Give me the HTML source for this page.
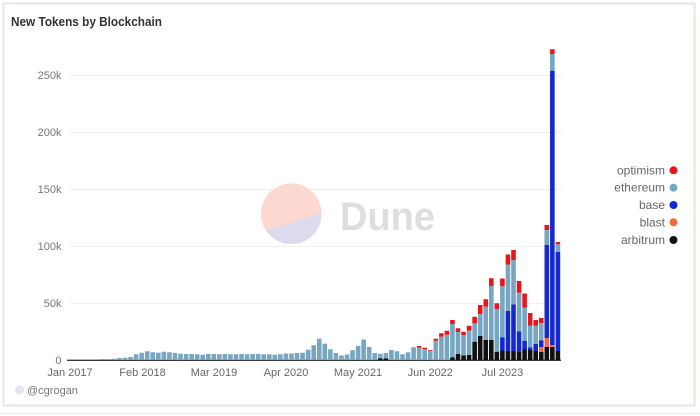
<!DOCTYPE html>
<html>
<head>
<meta charset="utf-8">
<style>
html,body{margin:0;padding:0;background:#fff;}
body{width:700px;height:416px;overflow:hidden;}
svg{display:block;font-family:"Liberation Sans",Arial,sans-serif;}
</style>
</head>
<body>
<svg width="700" height="416" viewBox="0 0 700 416" xmlns="http://www.w3.org/2000/svg">
<rect x="0" y="0" width="700" height="416" fill="#fff"/>
<rect x="3.5" y="3.5" width="691" height="402" fill="#fff" stroke="#efe5df" stroke-width="2"/>
<line x1="0" y1="413.5" x2="700" y2="413.5" stroke="#ececec" stroke-width="1"/>
<text x="11" y="26" font-size="12.5" font-weight="bold" fill="#333" textLength="151" lengthAdjust="spacingAndGlyphs">New Tokens by Blockchain</text>
<path d="M70 75.5H562M70 132.5H562M70 189.5H562M70 246.5H562M70 303.5H562" stroke="#efefef" stroke-width="1" fill="none"/>
<g font-size="11" fill="#777" text-anchor="end">
<text x="61.5" y="79">250k</text>
<text x="61.5" y="136">200k</text>
<text x="61.5" y="193">150k</text>
<text x="61.5" y="250">100k</text>
<text x="61.5" y="307">50k</text>
<text x="61.5" y="364">0</text>
</g>
<defs><clipPath id="wc"><circle cx="291.3" cy="213.7" r="30.3"/></clipPath></defs>
<circle cx="291.3" cy="213.7" r="30.3" fill="#fcd8d0"/>
<polygon points="255,234.5 330,210.3 330,250 255,250" fill="#dcdaec" clip-path="url(#wc)"/>
<text x="340" y="230" font-size="40" font-weight="bold" fill="#dedede" textLength="95" lengthAdjust="spacingAndGlyphs">Dune</text>
<line x1="67" y1="360.3" x2="561" y2="360.3" stroke="#3a3a3a" stroke-width="1.4"/>
<path fill="#77a6c2" d="M94.95 359.3h4.6v0.7h-4.6zM100.5 359h4.6v1h-4.6zM106.05 359h4.6v1h-4.6zM111.6 358.7h4.6v1.3h-4.6zM117.15 358h4.6v2h-4.6zM122.7 357.7h4.6v2.3h-4.6zM128.25 357h4.6v3h-4.6zM133.8 354.3h4.6v5.7h-4.6zM139.35 352.7h4.6v7.3h-4.6zM144.9 351.3h4.6v8.7h-4.6zM150.45 352.3h4.6v7.7h-4.6zM156 352.7h4.6v7.3h-4.6zM161.55 351.7h4.6v8.3h-4.6zM167.1 352.3h4.6v7.7h-4.6zM172.65 353h4.6v7h-4.6zM178.2 353.7h4.6v6.3h-4.6zM183.75 354h4.6v6h-4.6zM189.3 354h4.6v6h-4.6zM194.85 354.3h4.6v5.7h-4.6zM200.4 354.7h4.6v5.3h-4.6zM205.95 354h4.6v6h-4.6zM211.5 354h4.6v6h-4.6zM217.05 354.3h4.6v5.7h-4.6zM222.6 354h4.6v6h-4.6zM228.15 354.3h4.6v5.7h-4.6zM233.7 354.3h4.6v5.7h-4.6zM239.25 354h4.6v6h-4.6zM244.8 354.3h4.6v5.7h-4.6zM250.35 354h4.6v6h-4.6zM255.9 354h4.6v6h-4.6zM261.45 354.3h4.6v5.7h-4.6zM267 354.3h4.6v5.7h-4.6zM272.55 354.7h4.6v5.3h-4.6zM278.1 354.3h4.6v5.7h-4.6zM283.65 353.5h4.6v6.5h-4.6zM289.2 353.5h4.6v6.5h-4.6zM294.75 353h4.6v7h-4.6zM300.3 352.7h4.6v7.3h-4.6zM305.85 349.7h4.6v10.3h-4.6zM311.4 345.3h4.6v14.7h-4.6zM316.95 338.7h4.6v21.3h-4.6zM322.5 343.7h4.6v16.3h-4.6zM328.05 349.3h4.6v10.7h-4.6zM333.6 353h4.6v7h-4.6zM339.15 355.5h4.6v4.5h-4.6zM344.7 354.5h4.6v5.5h-4.6zM350.25 350.3h4.6v9.7h-4.6zM355.8 346h4.6v14h-4.6zM361.35 339.5h4.6v20.5h-4.6zM366.9 347h4.6v13h-4.6zM372.45 353h4.6v7h-4.6zM378 353.7h4.6v4.8h-4.6zM383.55 353h4.6v5.5h-4.6zM389.1 350h4.6v10h-4.6zM394.65 351.3h4.6v8.7h-4.6zM400.2 354.3h4.6v5.7h-4.6zM405.75 352.3h4.6v7.7h-4.6zM411.3 347.3h4.6v12.7h-4.6zM416.85 347.5h4.6v12.5h-4.6zM422.4 349.2h4.6v10.8h-4.6zM427.95 350.8h4.6v9.2h-4.6zM433.5 340.7h4.6v19.3h-4.6zM439.05 336.6h4.6v23.4h-4.6zM444.6 334.7h4.6v25.3h-4.6zM450.15 324h4.6v33.3h-4.6zM455.7 332h4.6v22h-4.6zM461.25 335h4.6v20.5h-4.6zM466.8 330.7h4.6v24.3h-4.6zM472.35 323.4h4.6v18.3h-4.6zM477.9 314h4.6v22h-4.6zM483.45 306.6h4.6v33.4h-4.6zM489 286h4.6v54h-4.6zM494.55 309.3h4.6v42.4h-4.6zM500.1 286.2h4.6v51h-4.6zM505.65 264.5h4.6v46.5h-4.6zM511.2 260h4.6v44.5h-4.6zM516.75 292.7h4.6v38.8h-4.6zM522.3 307.5h4.6v33.5h-4.6zM527.85 325.7h4.6v21.8h-4.6zM533.4 325.7h4.6v18.3h-4.6zM538.95 323h4.6v17.5h-4.6zM544.5 230h4.6v15h-4.6zM550.05 54h4.6v16.7h-4.6zM555.6 244.3h4.6v7.7h-4.6z"/>
<path fill="#111" d="M378 358.5h4.6v1.5h-4.6zM383.55 358.5h4.6v1.5h-4.6zM450.15 357.3h4.6v2.7h-4.6zM455.7 354h4.6v6h-4.6zM461.25 355.5h4.6v4.5h-4.6zM466.8 355h4.6v5h-4.6zM472.35 341.7h4.6v18.3h-4.6zM477.9 336h4.6v24h-4.6zM483.45 340h4.6v20h-4.6zM489 340h4.6v20h-4.6zM494.55 351.7h4.6v8.3h-4.6zM500.1 350.5h4.6v9.5h-4.6zM505.65 351h4.6v9h-4.6zM511.2 351h4.6v9h-4.6zM516.75 352h4.6v8h-4.6zM522.3 349.5h4.6v10.5h-4.6zM527.85 350h4.6v10h-4.6zM533.4 351h4.6v9h-4.6zM538.95 352h4.6v8h-4.6zM544.5 347h4.6v13h-4.6zM550.05 347h4.6v13h-4.6zM555.6 351h4.6v9h-4.6z"/>
<path fill="#f26a3d" d="M538.95 347h4.6v5h-4.6zM544.5 338h4.6v9h-4.6zM550.05 345h4.6v2h-4.6z"/>
<path fill="#1428d2" d="M500.1 337.2h4.6v13.3h-4.6zM505.65 311h4.6v40h-4.6zM511.2 304.5h4.6v46.5h-4.6zM516.75 331.5h4.6v20.5h-4.6zM522.3 341h4.6v8.5h-4.6zM527.85 347.5h4.6v2.5h-4.6zM533.4 344h4.6v7h-4.6zM538.95 340.5h4.6v6.5h-4.6zM544.5 245h4.6v93h-4.6zM550.05 70.7h4.6v274.3h-4.6zM555.6 252h4.6v99h-4.6z"/>
<path fill="#e8161b" d="M416.85 346h4.6v1.5h-4.6zM422.4 347.7h4.6v1.5h-4.6zM427.95 350h4.6v0.8h-4.6zM433.5 338.7h4.6v2h-4.6zM439.05 333.3h4.6v3.3h-4.6zM444.6 330.7h4.6v4h-4.6zM450.15 320h4.6v4h-4.6zM455.7 328.3h4.6v3.7h-4.6zM461.25 331.7h4.6v3.3h-4.6zM466.8 325.7h4.6v5h-4.6zM472.35 316.7h4.6v6.7h-4.6zM477.9 305h4.6v9h-4.6zM483.45 299.3h4.6v7.3h-4.6zM489 278.3h4.6v7.7h-4.6zM494.55 303.3h4.6v6h-4.6zM500.1 278.5h4.6v7.7h-4.6zM505.65 254.5h4.6v10h-4.6zM511.2 250h4.6v10h-4.6zM516.75 281h4.6v11.7h-4.6zM522.3 293.5h4.6v14h-4.6zM527.85 313h4.6v12.7h-4.6zM533.4 320h4.6v5.7h-4.6zM538.95 318h4.6v5h-4.6zM544.5 225h4.6v5h-4.6zM550.05 49.3h4.6v4.7h-4.6zM555.6 242h4.6v2.3h-4.6z"/>
<g font-size="11" fill="#666" text-anchor="middle">
<text x="70" y="376">Jan 2017</text>
<text x="142.5" y="376">Feb 2018</text>
<text x="214" y="376">Mar 2019</text>
<text x="286" y="376">Apr 2020</text>
<text x="358" y="376">May 2021</text>
<text x="430.3" y="376">Jun 2022</text>
<text x="502.4" y="376">Jul 2023</text>
</g>
<g font-size="12" fill="#666" text-anchor="end">
<text x="665" y="174.3">optimism</text>
<text x="665" y="191.7">ethereum</text>
<text x="665" y="209">base</text>
<text x="665" y="226.3">blast</text>
<text x="665" y="244">arbitrum</text>
</g>
<circle cx="673.5" cy="170.3" r="4" fill="#e8161b"/>
<circle cx="673.5" cy="187.7" r="4" fill="#77a6c2"/>
<circle cx="673.5" cy="205" r="4" fill="#1428d2"/>
<circle cx="673.5" cy="222.3" r="4" fill="#f26a3d"/>
<circle cx="673.5" cy="240" r="4" fill="#111"/>
<circle cx="19.5" cy="390" r="4.5" fill="#e4e4f4"/>
<text x="27" y="394" font-size="11" fill="#777">@cgrogan</text>
</svg>
</body>
</html>
